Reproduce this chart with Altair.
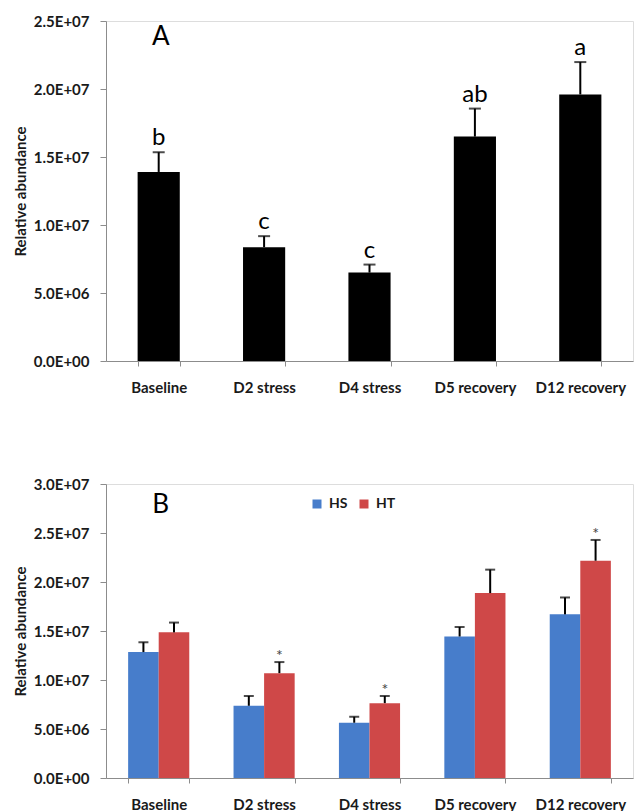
import altair as alt
import pandas as pd

# ---------------- data ----------------
categories = ["Baseline", "D2 stress", "D4 stress", "D5 recovery", "D12 recovery"]

# Panel A
a_mean = [13.9e6, 8.37e6, 6.5e6, 16.5e6, 19.6e6]
a_err = [1.45e6, 0.81e6, 0.59e6, 2.06e6, 2.38e6]
a_letters = ["b", "c", "c", "ab", "a"]

# Panel B
groups = ["HS", "HT"]
hs_mean = [12.85e6, 7.37e6, 5.64e6, 14.44e6, 16.7e6]
hs_err = [1.0e6, 1.0e6, 0.61e6, 0.97e6, 1.72e6]
ht_mean = [14.86e6, 10.7e6, 7.64e6, 18.87e6, 22.17e6]
ht_err = [1.0e6, 1.13e6, 0.73e6, 2.39e6, 2.12e6]
ht_sig = ["", "*", "*", "", "*"]

a_ticks = [0, 5e6, 10e6, 15e6, 20e6, 25e6]
b_ticks = [0, 5e6, 10e6, 15e6, 20e6, 25e6, 30e6]

colors = ["#477DCB", "#CF4848"]
FONT = "Lato"

# ---------------- tables ----------------
dfA = pd.DataFrame({
    "cat": categories,
    "mean": a_mean,
    "top": [m + e for m, e in zip(a_mean, a_err)],
    "letter": a_letters,
})

rows = []
for i, c in enumerate(categories):
    rows.append({"cat": c, "grp": "HS", "mean": hs_mean[i], "top": hs_mean[i] + hs_err[i], "sig": ""})
    rows.append({"cat": c, "grp": "HT", "mean": ht_mean[i], "top": ht_mean[i] + ht_err[i], "sig": ht_sig[i]})
dfB = pd.DataFrame(rows)

label_expr = (
    "datum.value == 0 ? '0.0E+00' : "
    "format(datum.value / pow(10, floor(log(datum.value)/LN10 + 1e-9)), '.1f') + 'E+' + "
    "(floor(log(datum.value)/LN10 + 1e-9) < 10 ? '0' : '') + floor(log(datum.value)/LN10 + 1e-9)"
)

AX_COLOR = "#8c8c8c"


def x_axis():
    return alt.Axis(
        title=None, labelAngle=0, labelFontWeight="bold", labelFontSize=15,
        labelColor="#1a1a1a", labelPadding=14, domainColor=AX_COLOR, tickColor=AX_COLOR,
        tickSize=5, tickBand="extent", labelFont=FONT,
    )


def y_axis(vals):
    return alt.Axis(
        title="Relative abundance", titleFontSize=15, titleFontWeight="bold", titleColor="#1a1a1a",
        titleFont=FONT, titlePadding=5,
        values=vals, labelExpr=label_expr, labelFontWeight="bold", labelFontSize=15,
        labelColor="#1a1a1a", labelFont=FONT, labelPadding=11,
        grid=False, domainColor=AX_COLOR, tickColor=AX_COLOR, tickSize=6,
    )


# ---------------- Panel A ----------------
xA = alt.X("cat:N", sort=categories, scale=alt.Scale(paddingInner=0.6, paddingOuter=0.3), axis=x_axis())
baseA = alt.Chart(dfA).encode(x=xA)

barsA = baseA.mark_bar(color="black").encode(
    y=alt.Y("mean:Q", scale=alt.Scale(domain=[0, 25e6], nice=False), axis=y_axis(a_ticks))
)
ruleA = baseA.mark_rule(color="black", strokeWidth=2).encode(y="mean:Q", y2="top:Q")
capA = baseA.mark_tick(color="black", thickness=2, size=12, orient="horizontal").encode(y="top:Q")
letA = baseA.mark_text(fontSize=24, font=FONT, baseline="alphabetic", dy=-7, color="black").encode(
    y="top:Q", text="letter:N"
)
panelA = alt.Chart(pd.DataFrame({"lab": ["A"], "cat": [categories[0]], "v": [23.8e6]})).mark_text(
    fontSize=26, font=FONT, color="black", baseline="middle", dx=2
).encode(x=alt.X("cat:N", sort=categories), y="v:Q", text="lab:N")

chartA = alt.layer(barsA, ruleA, capA, letA, panelA).properties(width=527, height=340)

# ---------------- Panel B ----------------
xB = alt.X("cat:N", sort=categories, scale=alt.Scale(paddingInner=0.42, paddingOuter=0.21), axis=x_axis())
xoff = alt.XOffset("grp:N", sort=groups, scale=alt.Scale(paddingInner=0, paddingOuter=0))
baseB = alt.Chart(dfB).encode(x=xB, xOffset=xoff)

barsB = baseB.mark_bar().encode(
    y=alt.Y("mean:Q", scale=alt.Scale(domain=[0, 30e6], nice=False), axis=y_axis(b_ticks)),
    color=alt.Color(
        "grp:N", sort=groups, scale=alt.Scale(domain=groups, range=colors),
        legend=alt.Legend(
            title=None, orient="none", direction="horizontal", legendX=204, legendY=476,
            symbolType="square", symbolSize=81, symbolStrokeWidth=0, labelFontSize=14,
            labelFontWeight="bold", labelFont=FONT, labelColor="#1a1a1a", labelOffset=5,
            columnPadding=9, padding=0,
        ),
    ),
)
ruleB = baseB.mark_rule(color="black", strokeWidth=2).encode(y="mean:Q", y2="top:Q")
capB = baseB.mark_tick(color="black", thickness=2, size=10, orient="horizontal").encode(y="top:Q")
starB = baseB.mark_text(fontSize=16, font=FONT, baseline="alphabetic", dy=-1, color="#444444").encode(
    y="top:Q", text="sig:N"
)
panelB = alt.Chart(pd.DataFrame({"lab": ["B"], "cat": [categories[0]], "v": [27.9e6]})).mark_text(
    fontSize=26, font=FONT, color="black", baseline="middle", dx=2
).encode(x=alt.X("cat:N", sort=categories), y="v:Q", text="lab:N")

chartB = alt.layer(barsB, ruleB, capB, starB, panelB).properties(width=527, height=294)

chart = alt.vconcat(chartA, chartB, spacing=80).properties(
    padding={"left": 12, "top": 13, "right": 0, "bottom": 0}
).configure_view(stroke=None).configure(font=FONT)

chart.save("out.html", embed_options={"renderer": "svg", "actions": False})
